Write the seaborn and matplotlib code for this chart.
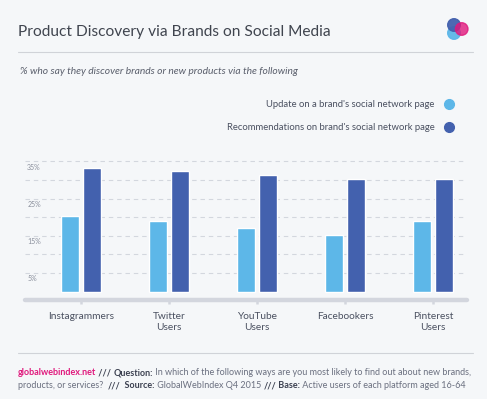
import numpy as np
import pandas as pd
import matplotlib
matplotlib.use("Agg")
import matplotlib.pyplot as plt
from matplotlib.lines import Line2D
from matplotlib.patches import Circle
import matplotlib.transforms as mtransforms
import seaborn as sns

# ---- data ----
platforms = ["Instagrammers", "Twitter\nUsers", "YouTube\nUsers", "Facebookers", "Pinterest\nUsers"]
series_names = ["Update on a brand's social network page",
                "Recommendations on brand's social network page"]
update_vals = [20.2, 19.1, 17.1, 15.1, 19.1]
recommend_vals = [33.3, 32.4, 31.3, 30.2, 30.2]
grid_vals = [5, 10, 15, 20, 25, 30, 35]
ytick_vals = [5, 15, 25, 35]
ytick_labels = ["5%", "15%", "25%", "35%"]

title = "Product Discovery via Brands on Social Media"
subtitle = "% who say they discover brands or new products via the following"

BG = "#f5f7f9"
LIGHT = "#5db7e8"
DARK = "#4361ae"
PINK = "#e0187c"
TXT = "#3b4050"
GREY = "#6b7080"

df = pd.DataFrame({
    "platform": platforms * 2,
    "series": [series_names[0]] * len(platforms) + [series_names[1]] * len(platforms),
    "value": update_vals + recommend_vals,
})

sns.set_theme(style="white")
plt.rcParams["font.family"] = ["Lato", "DejaVu Sans"]

W, H = 487, 399
fig = plt.figure(figsize=(W / 100, H / 100), dpi=100, facecolor=BG)

def fx(px):
    return px / W

def fy(py):
    return 1 - py / H

ax = fig.add_axes([fx(25), fy(300), fx(467) - fx(25), fy(155) - fy(300)])
ax.set_facecolor(BG)

sns.barplot(data=df, x="platform", y="value", hue="series", order=platforms,
            hue_order=series_names, palette=[LIGHT, DARK], saturation=1,
            width=0.49, gap=0.17, legend=False, ax=ax, zorder=3)

ymin, ymax = -2.23, 36.7
ax.set_ylim(ymin, ymax)
ax.set_xlim(-0.636, 4.386)

for v in grid_vals:
    ax.axhline(v, color="#d3d7de", lw=0.8, ls=(0, (4, 3.5)), zorder=1)

trans = mtransforms.blended_transform_factory(ax.transAxes, ax.transData)
for v, lab in zip(ytick_vals, ytick_labels):
    ax.text(0.005, v - 0.6, lab, transform=trans, ha="left", va="top",
            fontsize=5, color="#8a8f9c", zorder=4)

for s in ax.spines.values():
    s.set_visible(False)
ax.axhline(ymin, color="#d3d6de", lw=3.2, solid_capstyle="round", clip_on=False, zorder=5)
ax.set_yticks([])
ax.set_xlabel("")
ax.set_ylabel("")
ax.tick_params(axis="x", length=3, width=1.8, color="#d3d6de", pad=5.5,
               labelsize=7.3, labelcolor="#4a5060", bottom=True)
for t in ax.get_xticklabels():
    t.set_linespacing(1.3)

# ---- header ----
fig.text(fx(18), fy(32), title, fontsize=11.2, color="#40454f", va="center", ha="left")
fig.add_artist(Line2D([fx(18), fx(473)], [fy(52), fy(52)], color="#d0d3d8", lw=0.8))
fig.text(fx(20), fy(72), subtitle, fontsize=7.4, style="italic", color="#5a5f6c",
         va="center", ha="left")

# logo
lax = fig.add_axes([fx(444), fy(42), fx(472) - fx(444), fy(14) - fy(42)])
lax.set_xlim(0, 28)
lax.set_ylim(0, 28)
lax.set_aspect("equal")
lax.axis("off")
lax.add_patch(Circle((10, 9), 6.3, color=LIGHT, alpha=0.95))
lax.add_patch(Circle((10, 17), 6.3, color=DARK, alpha=0.95))
lax.add_patch(Circle((17.7, 13), 6.3, color=PINK, alpha=0.8))

# legend
handles = [Line2D([], [], marker="o", ls="", markersize=7, markerfacecolor=c,
                  markeredgecolor=c) for c in (LIGHT, DARK)]
leg = fig.legend(handles, series_names, loc="upper right", markerfirst=False,
                 frameon=False, fontsize=6.8, labelcolor="#4a5060",
                 bbox_to_anchor=(fx(458), fy(100)), labelspacing=1.5,
                 handletextpad=0.5, borderaxespad=0, borderpad=0)

# ---- footer ----
fig.add_artist(Line2D([fx(18), fx(473)], [fy(353), fy(353)], color="#d0d3d8", lw=0.8))

fig.canvas.draw()
renderer = fig.canvas.get_renderer()

def draw_segments(segments, x0, yc, size):
    x = x0
    for txt, col, wt in segments:
        t = fig.text(fx(x), fy(yc), txt, fontsize=size, color=col, weight=wt,
                     va="center", ha="left")
        bb = t.get_window_extent(renderer=renderer)
        x += bb.width

line1 = [("globalwebindex.net", PINK, "bold"), (" /// ", TXT, "bold"),
         ("Question:", TXT, "bold"),
         (" In which of the following ways are you most likely to find out about new brands,", GREY, "normal")]
line2 = [("products, or services?  ", GREY, "normal"), ("///", TXT, "bold"),
         ("  Source:", TXT, "bold"), (" GlobalWebIndex Q4 2015 ", GREY, "normal"),
         ("///", TXT, "bold"), (" Base:", TXT, "bold"),
         (" Active users of each platform aged 16-64", GREY, "normal")]
draw_segments(line1, 18, 372.7, 6.5)
draw_segments(line2, 18, 386, 6.5)

fig.savefig("out.png", dpi=100, facecolor=BG)
